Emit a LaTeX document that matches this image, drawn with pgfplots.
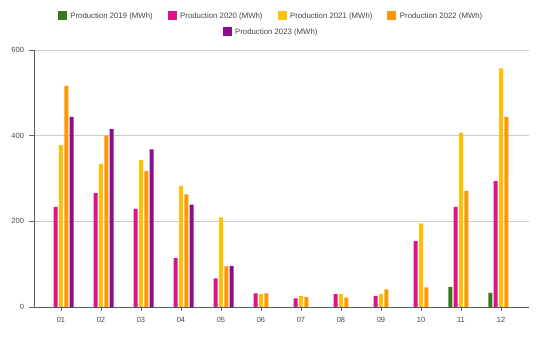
\documentclass[border=0pt]{standalone}
\usepackage{pgfplots}
\pgfplotsset{compat=1.18}
\usepackage{fontspec}
\setmainfont{Liberation Sans}
\definecolor{c19}{HTML}{3A7A1E}
\definecolor{c20}{HTML}{E0118A}
\definecolor{c21}{HTML}{FFC107}
\definecolor{c22}{HTML}{FF9800}
\definecolor{c23}{HTML}{8B0D8B}
\definecolor{txt}{HTML}{444444}
\begin{document}
\begin{tikzpicture}
\path[use as bounding box] (0,0) rectangle (542pt,340pt);
\begin{axis}[
  at={(34pt,33pt)}, anchor=south west, scale only axis,
  width=495pt, height=257pt,
  xmin=0.325, xmax=12.7, ymin=0, ymax=600,
  ybar=1.3pt, bar width=4pt,
  xtick={1,2,3,4,5,6,7,8,9,10,11,12},
  xticklabels={01,02,03,04,05,06,07,08,09,10,11,12},
  ytick={0,200,400,600},
  axis x line=bottom, axis y line=left,
  axis line style={-, draw=black!65, line width=0.8pt},
  ymajorgrids, grid style={draw=black!20, line width=0.7pt},
  tick style={draw=black!60, line width=0.6pt}, tick align=outside,
  major tick length=4.5pt,
  /pgf/number format/assume math mode=true,
  ticklabel style={font=\fontsize{7.5}{9}\selectfont, text=txt},
  xticklabel style={yshift=-2pt},
  yticklabel style={xshift=-2pt},
  legend columns=4,
  legend style={at={(0.479,1.132)}, anchor=center, draw=none, fill=none,
    font=\fontsize{7.8}{9}\selectfont, text=txt,
    /tikz/every even column/.append style={column sep=13pt},
    /tikz/every odd column/.append style={column sep=1.5pt}},
  legend image code/.code={\fill[#1] (0pt,-4pt) rectangle (9pt,5pt);},
]
\addplot[fill=c19, draw=none] coordinates {(11,47) (12,33)};
\addlegendentry{Production 2019 (MWh)}
\addplot[fill=c20, draw=none] coordinates {(1,234) (2,266) (3,229) (4,114) (5,67) (6,32) (7,20) (8,30) (9,26) (10,154) (11,234) (12,294)};
\addlegendentry{Production 2020 (MWh)}
\addplot[fill=c21, draw=none] coordinates {(1,378) (2,334) (3,343) (4,283) (5,209) (6,30) (7,26) (8,30) (9,30) (10,195) (11,407) (12,557)};
\addlegendentry{Production 2021 (MWh)}
\addplot[fill=c22, draw=none] coordinates {(1,516) (2,400) (3,317) (4,263) (5,95) (6,32) (7,23) (8,22) (9,41) (10,46) (11,271) (12,444)};
\addlegendentry{Production 2022 (MWh)}
\addplot[fill=c23, draw=none] coordinates {(1,444) (2,415) (3,368) (4,239) (5,96)};
\end{axis}
\begin{axis}[
  at={(34pt,33pt)}, anchor=south west, scale only axis,
  width=495pt, height=257pt,
  xmin=0.325, xmax=12.7, ymin=0, ymax=600,
  hide axis,
  legend style={at={(0.479,1.07)}, anchor=center, draw=none, fill=none,
    font=\fontsize{7.8}{9}\selectfont, text=txt,
    /tikz/every odd column/.append style={column sep=1.5pt}},
  legend image code/.code={\fill[#1] (0pt,-4pt) rectangle (9pt,5pt);},
]
\addlegendimage{fill=c23, draw=none}
\addlegendentry{Production 2023 (MWh)}
\end{axis}
\end{tikzpicture}
\end{document}
